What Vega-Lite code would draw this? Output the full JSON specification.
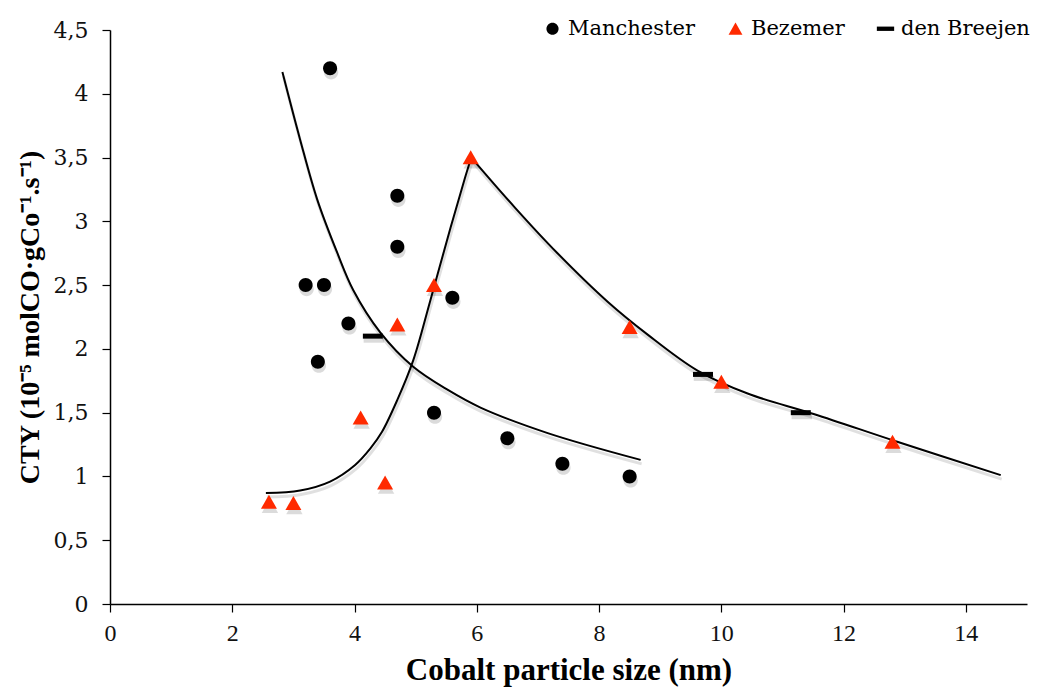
{
  "$schema": "https://vega.github.io/schema/vega-lite/v6.json",
  "width": 917,
  "height": 574,
  "autosize": "none",
  "padding": {"left": 110, "top": 30, "right": 13, "bottom": 93},
  "background": "white",
  "config": {
    "view": {"stroke": null},
    "font": "Liberation Serif",
    "axis": {
      "grid": false,
      "domainColor": "#000",
      "domainWidth": 1.5,
      "tickColor": "#000",
      "tickWidth": 1.2,
      "tickSize": 8,
      "labelColor": "#111",
      "labelFlush": false,
      "labelFont": "Liberation Serif",
      "titleFont": "Liberation Serif",
      "titleColor": "#000",
      "titleFontWeight": "bold"
    },
    "legend": {
      "title": null,
      "orient": "none",
      "legendX": 432,
      "legendY": -12,
      "direction": "horizontal",
      "labelFontSize": 21,
      "labelFont": "DejaVu Serif",
      "labelColor": "#000",
      "symbolSize": 300,
      "symbolStrokeWidth": 0,
      "labelOffset": 5,
      "columnPadding": 30
    }
  },
  "datasets": {
    "obs": [
      {"series": "Manchester", "x": 3.6, "y": 4.2},
      {"series": "Manchester", "x": 3.2, "y": 2.5},
      {"series": "Manchester", "x": 3.5, "y": 2.5},
      {"series": "Manchester", "x": 3.9, "y": 2.2},
      {"series": "Manchester", "x": 3.4, "y": 1.9},
      {"series": "Manchester", "x": 4.7, "y": 3.2},
      {"series": "Manchester", "x": 4.7, "y": 2.8},
      {"series": "Manchester", "x": 5.6, "y": 2.4},
      {"series": "Manchester", "x": 5.3, "y": 1.5},
      {"series": "Manchester", "x": 6.5, "y": 1.3},
      {"series": "Manchester", "x": 7.4, "y": 1.1},
      {"series": "Manchester", "x": 8.5, "y": 1.0},
      {"series": "Bezemer", "x": 2.6, "y": 0.8},
      {"series": "Bezemer", "x": 3.0, "y": 0.79},
      {"series": "Bezemer", "x": 4.1, "y": 1.46},
      {"series": "Bezemer", "x": 4.5, "y": 0.95},
      {"series": "Bezemer", "x": 4.7, "y": 2.19},
      {"series": "Bezemer", "x": 5.3, "y": 2.5},
      {"series": "Bezemer", "x": 5.9, "y": 3.5},
      {"series": "Bezemer", "x": 8.5, "y": 2.17},
      {"series": "Bezemer", "x": 10.0, "y": 1.74},
      {"series": "Bezemer", "x": 12.8, "y": 1.27},
      {"series": "den Breejen", "x": 4.3, "y": 2.1},
      {"series": "den Breejen", "x": 9.7, "y": 1.8},
      {"series": "den Breejen", "x": 11.3, "y": 1.5}
    ],
    "fit": [
      {"curve": "a", "x": 2.82, "y": 4.17},
      {"curve": "a", "x": 3.11, "y": 3.64},
      {"curve": "a", "x": 3.39, "y": 3.17},
      {"curve": "a", "x": 3.72, "y": 2.75},
      {"curve": "a", "x": 3.98, "y": 2.46},
      {"curve": "a", "x": 4.42, "y": 2.13},
      {"curve": "a", "x": 4.96, "y": 1.86},
      {"curve": "a", "x": 5.52, "y": 1.68},
      {"curve": "a", "x": 6.06, "y": 1.54},
      {"curve": "a", "x": 7.16, "y": 1.34},
      {"curve": "a", "x": 8.68, "y": 1.13},
      {"curve": "b1", "x": 2.55, "y": 0.87},
      {"curve": "b1", "x": 3.11, "y": 0.89},
      {"curve": "b1", "x": 3.6, "y": 0.96},
      {"curve": "b1", "x": 4.01, "y": 1.09},
      {"curve": "b1", "x": 4.26, "y": 1.22},
      {"curve": "b1", "x": 4.45, "y": 1.35},
      {"curve": "b1", "x": 4.7, "y": 1.6},
      {"curve": "b1", "x": 4.96, "y": 1.91},
      {"curve": "b1", "x": 5.24, "y": 2.38},
      {"curve": "b1", "x": 5.57, "y": 2.95},
      {"curve": "b1", "x": 5.8, "y": 3.33},
      {"curve": "b1", "x": 5.91, "y": 3.5},
      {"curve": "b2", "x": 5.91, "y": 3.5},
      {"curve": "b2", "x": 6.62, "y": 3.11},
      {"curve": "b2", "x": 7.32, "y": 2.75},
      {"curve": "b2", "x": 8.14, "y": 2.37},
      {"curve": "b2", "x": 8.8, "y": 2.11},
      {"curve": "b2", "x": 9.61, "y": 1.83},
      {"curve": "b2", "x": 10.43, "y": 1.65},
      {"curve": "b2", "x": 11.51, "y": 1.49},
      {"curve": "b2", "x": 12.89, "y": 1.27},
      {"curve": "b2", "x": 14.57, "y": 1.01}
    ]
  },
  "encoding": {
    "x": {
      "field": "x",
      "type": "quantitative",
      "scale": {"domain": [0, 15], "nice": false, "zero": false},
      "axis": {
        "title": "Cobalt particle size (nm)",
        "values": [0, 2, 4, 6, 8, 10, 12, 14],
        "labelFontSize": 24,
        "labelPadding": 9,
        "titleFontSize": 31,
        "titlePadding": 10
      }
    },
    "y": {
      "field": "y",
      "type": "quantitative",
      "scale": {"domain": [0, 4.5], "nice": false, "zero": false},
      "axis": {
        "title": "CTY (10⁻⁵ molCO·gCo⁻¹.s⁻¹)",
        "values": [0, 0.5, 1, 1.5, 2, 2.5, 3, 3.5, 4, 4.5],
        "labelExpr": "replace(format(datum.value, '~g'), '.', ',')",
        "labelFont": "DejaVu Serif",
        "labelFontSize": 22,
        "labelPadding": 14,
        "titleFontSize": 28,
        "titlePadding": 9
      }
    }
  },
  "layer": [
    {
      "data": {"name": "fit"},
      "mark": {"type": "line", "interpolate": "catmull-rom", "color": "#000", "opacity": 0.12, "strokeWidth": 3, "yOffset": 4, "xOffset": 1},
      "encoding": {"detail": {"field": "curve"}}
    },
    {
      "data": {"name": "fit"},
      "mark": {"type": "line", "interpolate": "catmull-rom", "color": "#000", "strokeWidth": 2},
      "encoding": {"detail": {"field": "curve"}}
    },
    {
      "data": {"name": "obs"},
      "transform": [{"filter": "datum.series === 'Manchester'"}],
      "mark": {"type": "point", "filled": true, "size": 420, "color": "#000", "opacity": 0.14, "yOffset": 4, "xOffset": 1,
               "shape": "M0.7,0A0.7,0.7,0,1,1,-0.7,0A0.7,0.7,0,1,1,0.7,0Z"}
    },
    {
      "data": {"name": "obs"},
      "transform": [{"filter": "datum.series === 'Bezemer'"}],
      "mark": {"type": "point", "filled": true, "size": 420, "color": "#000", "opacity": 0.14, "yOffset": 4, "xOffset": 1,
               "shape": "M0,-0.72L0.8,0.68L-0.8,0.68Z"}
    },
    {
      "data": {"name": "obs"},
      "transform": [{"filter": "datum.series === 'den Breejen'"}],
      "mark": {"type": "point", "filled": true, "size": 420, "color": "#000", "opacity": 0.14, "yOffset": 4, "xOffset": 1,
               "shape": "M-1,-0.25H1V0.25H-1Z"}
    },
    {
      "data": {"name": "obs"},
      "mark": {"type": "point", "filled": true, "opacity": 1, "size": 400},
      "encoding": {
        "shape": {
          "field": "series",
          "type": "nominal",
          "scale": {
            "domain": ["Manchester", "Bezemer", "den Breejen"],
            "range": [
              "M0.7,0A0.7,0.7,0,1,1,-0.7,0A0.7,0.7,0,1,1,0.7,0Z",
              "M0,-0.72L0.8,0.68L-0.8,0.68Z",
              "M-1,-0.25H1V0.25H-1Z"
            ]
          }
        },
        "color": {
          "field": "series",
          "type": "nominal",
          "scale": {
            "domain": ["Manchester", "Bezemer", "den Breejen"],
            "range": ["#000000", "#ff2a00", "#000000"]
          }
        }
      }
    }
  ]
}
